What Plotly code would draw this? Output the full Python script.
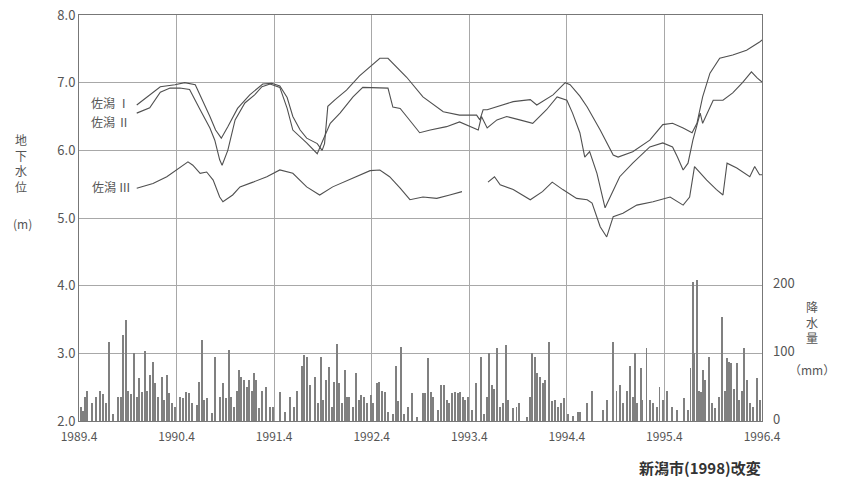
import plotly.graph_objects as go

# x values: months since 1989.4
tick_labels = ["1989.4", "1990.4", "1991.4", "1992.4", "1993.4", "1994.4", "1995.4", "1996.4"]
tick_months = [0, 12, 24, 36, 48, 60, 72, 84]
rain_ticks = [0, 100, 200]

s1_m = [7.1, 10.0, 11.8, 13.0, 14.3, 14.9, 16.1, 16.8, 17.5, 18.3, 19.5, 21.0, 22.6, 23.7, 24.7, 25.6,
        26.3, 27.2, 28.0, 29.3, 29.9, 30.2, 30.6, 31.5, 32.9, 34.5, 35.8, 37.0, 38.0, 38.9, 40.3, 42.3,
        44.8, 46.8, 48.9, 49.3, 49.7, 50.2, 53.4, 55.5, 56.3, 58.3, 59.8, 60.4, 61.6, 62.5, 64.1, 65.7,
        66.3, 68.1, 70.2, 71.8, 73.0, 74.3, 75.4, 76.0, 76.7, 77.6, 78.8, 80.4, 82.1, 83.7, 84.0]
s1_v = [6.67, 6.94, 6.97, 7.0, 6.97, 6.82, 6.5, 6.3, 6.18, 6.35, 6.62, 6.82, 6.98, 6.99, 6.95, 6.78,
        6.5, 6.3, 6.18, 6.1, 6.0, 6.1, 6.65, 6.75, 6.89, 7.1, 7.23, 7.36, 7.36, 7.25, 7.08, 6.79,
        6.57, 6.52, 6.52, 6.45, 6.6, 6.6, 6.72, 6.75, 6.67, 6.82, 7.0, 6.97, 6.8, 6.64, 6.3, 5.93,
        5.9, 5.98, 6.15, 6.38, 6.4, 6.33, 6.26, 6.4, 6.79, 7.14, 7.36, 7.41, 7.48, 7.6, 7.63]

s2_m = [7.1, 8.7, 10.0, 11.2, 12.4, 13.6, 14.9, 16.1, 16.7, 17.3, 17.6, 18.3, 19.2, 20.4, 21.6, 22.5,
        23.5, 24.7, 25.6, 26.3, 28.0, 29.3, 30.0, 30.9, 32.1, 33.7, 34.9, 37.0, 38.0, 38.6, 39.5, 40.3,
        41.9, 43.2, 45.2, 46.8, 48.1, 49.1, 49.5, 50.2, 51.4, 52.6, 54.2, 55.8, 57.5, 58.8, 60.0, 60.7,
        61.6, 62.2, 62.8, 63.7, 64.7, 65.3, 66.5, 68.1, 70.2, 71.8, 73.0, 73.6, 74.3, 74.9, 75.5, 76.4,
        76.7, 78.0, 79.2, 80.4, 81.6, 82.7, 83.4, 84.0]
s2_v = [6.55, 6.63, 6.86, 6.92, 6.92, 6.9, 6.6, 6.33, 6.15, 5.86, 5.78, 6.0, 6.45, 6.7, 6.82, 6.94,
        6.98, 6.93, 6.62, 6.3, 6.11, 5.95, 6.15, 6.4, 6.55, 6.79, 6.93, 6.92, 6.92, 6.64, 6.62, 6.5,
        6.26, 6.3, 6.35, 6.42, 6.35, 6.3, 6.5, 6.33, 6.45, 6.5, 6.45, 6.4, 6.6, 6.79, 6.74, 6.55,
        6.26, 5.9, 5.98, 5.66, 5.15, 5.31, 5.61, 5.81, 6.05, 6.11, 6.05, 5.9, 5.71, 5.81, 6.15, 6.55,
        6.4, 6.74, 6.74, 6.85, 7.0, 7.16, 7.07, 7.01]

s3_m = [7.1, 9.1, 10.8, 12.4, 13.4, 14.0, 14.9, 15.7, 16.5, 17.3, 17.7, 18.9, 19.8, 21.4, 23.1, 24.7,
        26.3, 28.0, 29.6, 31.2, 33.7, 35.8, 37.0, 38.2, 39.5, 40.7, 42.3, 44.0, 45.6, 47.1, 48.7,
        50.3, 51.1, 51.8, 53.4, 55.5, 57.0, 58.2, 59.5, 61.2, 62.5, 63.1, 64.1, 64.9, 65.7, 66.9,
        68.6, 70.6, 72.7, 74.3, 75.1, 75.7, 76.4, 77.2, 78.4, 79.2, 79.7, 80.9, 82.5, 83.1, 83.7, 84.0]
s3_v = [5.44, 5.51, 5.61, 5.74, 5.83, 5.78, 5.66, 5.68, 5.56, 5.31, 5.24, 5.34, 5.46, 5.53, 5.61, 5.71,
        5.66, 5.46, 5.34, 5.46, 5.59, 5.7, 5.71, 5.61, 5.44, 5.27, 5.31, 5.29, 5.34, 5.39, None,
        5.53, 5.61, 5.49, 5.42, 5.27, 5.39, 5.53, 5.42, 5.29, 5.27, 5.22, 4.87, 4.72, 5.02, 5.07,
        5.19, 5.24, 5.31, 5.19, 5.31, 5.76, 5.66, 5.56, 5.42, 5.34, 5.81, 5.74, 5.61, 5.76, 5.64, 5.64]

rain_m = [0.2, 0.5, 0.7, 1.0, 1.6, 2.1, 2.6, 3.0, 3.3, 3.7, 4.2, 4.8, 5.2, 5.4, 5.8, 6.0, 6.4, 6.8, 7.1,
          7.4, 7.7, 8.1, 8.4, 8.7, 9.1, 9.3, 9.7, 10.2, 10.5, 10.8, 11.1, 11.4, 11.8, 12.4, 12.8, 13.2,
          13.5, 13.9, 14.5, 14.8, 15.1, 15.4, 15.7, 16.4, 16.7, 17.3, 17.7, 18.1, 18.4, 18.7, 19.1, 19.4,
          19.7, 19.9, 20.3, 20.7, 20.9, 21.3, 21.5, 21.8, 22.1, 22.5, 23.0, 23.5, 23.9, 24.7, 25.3, 26.0,
          26.4, 26.8, 27.4, 27.7, 28.0, 28.4, 29.0, 29.4, 29.8, 30.0, 30.4, 30.8, 31.1, 31.4, 31.7, 32.0,
          32.3, 32.7, 33.0, 33.2, 33.7, 34.1, 34.4, 34.7, 35.1, 35.4, 35.9, 36.2, 36.7, 36.9, 37.3, 37.6,
          38.0, 38.6, 39.0, 39.2, 39.6, 40.0, 40.5, 41.0, 41.6, 42.3, 42.6, 42.9, 43.3, 43.5, 44.2, 44.5,
          44.9, 45.3, 45.5, 45.9, 46.2, 46.6, 46.9, 47.2, 47.5, 47.8, 48.3, 48.8, 49.4, 49.8, 50.2, 50.4,
          50.8, 51.0, 51.4, 51.8, 52.2, 52.5, 52.8, 53.4, 53.8, 54.1, 55.1, 55.5, 55.7, 56.1, 56.3, 56.7,
          57.1, 57.3, 57.8, 58.2, 58.5, 58.9, 59.3, 59.7, 60.1, 60.8, 61.4, 61.6, 62.5, 63.1, 64.4, 64.9,
          65.7, 66.1, 66.5, 66.9, 67.4, 67.8, 68.1, 68.4, 68.6, 69.1, 69.3, 69.8, 70.2, 70.6, 71.1, 71.4,
          71.8, 72.3, 72.9, 73.5, 74.4, 74.9, 75.2, 75.5, 75.7, 76.0, 76.2, 76.5, 76.7, 77.0, 77.5, 77.8,
          78.2, 78.7, 79.1, 79.5, 79.7, 79.9, 80.2, 80.6, 80.9, 81.2, 81.5, 81.8, 82.2, 82.5, 82.9, 83.4,
          83.7]
rain_mm = [20, 15, 35, 45, 27, 35, 45, 40, 27, 117, 10, 35, 35, 127, 149, 45, 40, 100, 35,
           63, 43, 103, 45, 68, 87, 56, 35, 65, 31, 68, 41, 27, 21, 35, 34, 43,
           41, 27, 24, 58, 120, 31, 34, 12, 95, 35, 56, 34, 105, 35, 21, 45,
           75, 65, 60, 50, 60, 45, 71, 60, 19, 45, 50, 21, 21, 43, 13, 35,
           21, 45, 82, 97, 95, 53, 65, 27, 95, 31, 60, 80, 21, 58, 114, 56,
           27, 75, 35, 35, 21, 71, 31, 38, 35, 27, 38, 27, 56, 57, 45, 43,
           13, 11, 82, 29, 110, 11, 21, 41, 6, 41, 41, 93, 43, 35, 16, 53,
           53, 31, 27, 41, 43, 41, 43, 35, 31, 35, 16, 56, 95, 11, 35, 100,
           53, 48, 108, 21, 27, 112, 31, 19, 21, 27, 6, 35, 100, 95, 71, 65,
           56, 60, 117, 29, 31, 21, 27, 34, 11, 8, 13, 13, 27, 45, 16, 31,
           117, 45, 53, 27, 45, 82, 35, 100, 27, 78, 31, 108, 31, 27, 21, 50,
           31, 45, 21, 16, 34, 16, 78, 205, 100, 208, 45, 43, 75, 60, 95, 27,
           19, 35, 154, 45, 93, 87, 85, 48, 85, 31, 45, 108, 60, 27, 21, 63,
           31]

line_color = "#505050"
grid_color = "#a8a8a8"
txt_color = "#555555"
jp_font = "Noto Sans CJK JP"

# full-window figure; the page body margin is removed by a post script
W, H = 846, 481
ML, MR, MT, MB = 79, 84, 15, 60
PW, PH = W - ML - MR, H - MT - MB

fig = go.Figure()
fig.add_trace(go.Bar(x=rain_m, y=rain_mm, yaxis="y2", width=0.11,
                     marker=dict(color="#808080", line=dict(width=0)), showlegend=False))
for xs, ys in [(s1_m, s1_v), (s2_m, s2_v), (s3_m, s3_v)]:
    fig.add_trace(go.Scatter(x=xs, y=ys, mode="lines", line=dict(color=line_color, width=1.1),
                             connectgaps=False, showlegend=False))

fig.update_layout(
    width=W, height=H,
    margin=dict(l=ML, r=MR, t=MT, b=MB, autoexpand=False),
    paper_bgcolor="white", plot_bgcolor="white",
    font=dict(family=jp_font, color=txt_color, size=12),
    bargap=0,
    xaxis=dict(range=[0, 84], tickvals=tick_months, ticktext=tick_labels, showgrid=True,
               gridcolor=grid_color, gridwidth=1, zeroline=False, showline=True,
               linecolor="#777777", mirror=True, ticks="", ticklabelstandoff=5,
               tickfont=dict(size=12, color=txt_color)),
    yaxis=dict(range=[2, 8], tickvals=[2, 3, 4, 5, 6, 7, 8],
               ticktext=["2.0", "3.0", "4.0", "5.0", "6.0", "7.0", "8.0"], showgrid=True,
               gridcolor=grid_color, gridwidth=1, zeroline=False, showline=True,
               linecolor="#777777", mirror=True, ticks="",
               tickfont=dict(size=13, color=txt_color)),
    yaxis2=dict(range=[0, 600], overlaying="y", side="right", tickvals=rain_ticks,
                showticklabels=False, showgrid=False, zeroline=False, showline=False, ticks=""),
)

# right-axis labels placed on the y2 scale, nudged up slightly as in the original
for v in rain_ticks:
    fig.add_annotation(x=1, y=v, xref="paper", yref="y2", text=str(v), showarrow=False,
                       xanchor="left", yanchor="middle", xshift=9, yshift=3,
                       font=dict(family=jp_font, size=13, color=txt_color))


def px_to_paper(px, py):
    return (px - ML) / PW, 1 - (py - MT) / PH


ann = [
    (21, 163, "地<br>下<br>水<br>位", 12, "#555555", False),
    (22, 223, "(m)", 12, "#555555", False),
    (812, 322, "降<br>水<br>量", 12, "#555555", False),
    (812, 369, "（mm）", 12, "#555555", False),
    (110, 103, "佐潟 Ⅰ", 12, "#555555", False),
    (110, 121, "佐潟 Ⅱ", 12, "#555555", False),
    (111, 187, "佐潟 Ⅲ", 12, "#555555", False),
    (700, 467, "新潟市(1998)改変", 15, "#333333", True),
]
for x, y, t, s, c, b in ann:
    xp, yp = px_to_paper(x, y)
    fig.add_annotation(x=xp, y=yp, xref="paper", yref="paper",
                       text=f"<b>{t}</b>" if b else t, showarrow=False,
                       xanchor="center", yanchor="middle",
                       font=dict(family=jp_font, size=s, color=c))

fig.write_html("out.html", config={"displayModeBar": False},
               post_script="document.body.style.margin='0px';")
